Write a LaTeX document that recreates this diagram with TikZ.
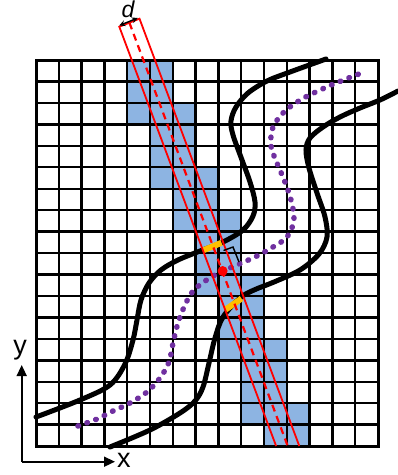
\documentclass[tikz,border=0pt]{standalone}
\usepackage{fontspec}
\setmainfont{Liberation Sans}
\usetikzlibrary{arrows.meta}
\definecolor{cellblue}{RGB}{141,180,226}
\definecolor{dotpurple}{RGB}{112,48,160}
\definecolor{segyellow}{RGB}{255,192,0}
\definecolor{stripred}{RGB}{255,0,0}
\begin{document}
\begin{tikzpicture}[x=1pt,y=-1pt,
  gridline/.style={line width=2.4pt,black},
  curve/.style={line width=5pt,black,line cap=round},
  dotted curve/.style={line width=5.5pt,dotpurple,line cap=round,dash pattern=on 0.6pt off 8.8pt},
  stripline/.style={line width=1.8pt,stripred},
  centerline/.style={line width=2.2pt,stripred,dash pattern=on 7pt off 5pt},
  hilite/.style={line width=6pt,segyellow},
  axis/.style={line width=1.6pt,black,-{Triangle[length=11pt,width=10pt]}},
  lbl/.style={inner sep=0pt,font=\fontsize{27}{27}\selectfont}
]
\useasboundingbox (0,0) rectangle (398,475);
\fill[white] (0,0) rectangle (398,475);
% blue cells: row/first col/last col
\foreach \r/\s/\e in {0/4/5,1/4/5,2/4/6,3/5/6,4/5/6,5/5/7,6/6/7,7/6/8,8/7/8,9/7/8,10/7/9,11/8/9,12/8/9,13/8/10,14/9/10,15/9/10,16/9/11,17/10/11}
  \fill[cellblue] ({36+22.8*\s},{60+21.45*\r}) rectangle ({36+22.8*(\e+1)},{60+21.45*(\r+1)});
% grid
\foreach \i in {0,...,15}
  \draw[gridline] ({36+22.8*\i},60) -- ({36+22.8*\i},446.1);
\foreach \j in {0,...,18}
  \draw[gridline] (36,{60+21.45*\j}) -- (378,{60+21.45*\j});
\draw[line width=3pt] (36,60) rectangle (378,446.1);
% black curves
\draw[curve] plot[smooth,tension=0.55] coordinates {(36,417) (80,400) (110,385) (125,364) (133,340) (137,320) (141,300) (149,283) (161,270) (178,260) (200,251) (223,242) (243,230) (253,216) (255,202) (250,182) (242,160) (233,135) (231,121) (236,107) (248,93) (267,81) (290,72) (326,59)};
\draw[curve] plot[smooth,tension=0.55] coordinates {(110,447) (150,430) (180,413) (195,401) (203,387) (209,363) (215,338) (223,317) (240,298) (254,290) (274,282) (300,270) (319,254) (327,237) (325,217) (317,193) (309,168) (306,150) (310,138) (323,127) (340,117) (360,108) (380,100) (398,91)};
% purple dotted curve
\draw[dotted curve] plot[smooth,tension=0.55] coordinates {(78,426) (97,419) (113,411) (130,403) (147,392) (160,378) (169,362) (173,343) (178,323) (185,305) (194,290) (213,276) (237,265) (255,257) (273,247) (287,237) (294,220) (291,200) (285,182) (277,163) (271,146) (273,127) (285,111) (302,99) (318,91) (336,83) (364,72)};
% highlighted segments
\draw[hilite] (203.3,250.3) -- (221.5,242.8);
\draw[hilite] (225,310) -- (241.5,298.5);
% strip
\coordinate (LT) at (119.3,26.7);
\coordinate (RT) at (139.5,18.7);
\coordinate (CT) at (129.4,22.7);
\coordinate (LB) at (276.1,446);
\coordinate (RB) at (299.3,446);
\coordinate (CB) at (287.7,446);
\draw[stripline] (LB) -- (LT) -- (RT) -- (RB);
\draw[centerline] (CT) -- (CB);
% right-angle marker
\coordinate (m1) at (223.5,250.5);
\coordinate (m2) at (233,247);
\coordinate (m3) at (239,262);
\draw[line width=1.4pt,black] (m1) -- (m2) -- (m3);
% red point
\fill[stripred] (222.6,271) circle (5pt);
% width arrow
\coordinate (d1) at (119.3,25.5);
\coordinate (d2) at (137.8,18);
\draw[line width=1.4pt,{Stealth[length=6pt,width=6pt]}-{Stealth[length=6pt,width=6pt]}] (d1) -- (d2);
\node[inner sep=0pt,font=\fontsize{23}{23}\selectfont\itshape] (dlabel) at (128,9) {d};
% axes
\coordinate (O) at (21.7,461.7);
\coordinate (Y) at (21.7,365);
\coordinate (X) at (115,461.7);
\draw[axis] (O) -- (Y);
\draw[axis] (O) -- (X);
\node[lbl] (ylabel) at (20,350) {y};
\node[lbl] (xlabel) at (124,460) {x};
\end{tikzpicture}
\end{document}
